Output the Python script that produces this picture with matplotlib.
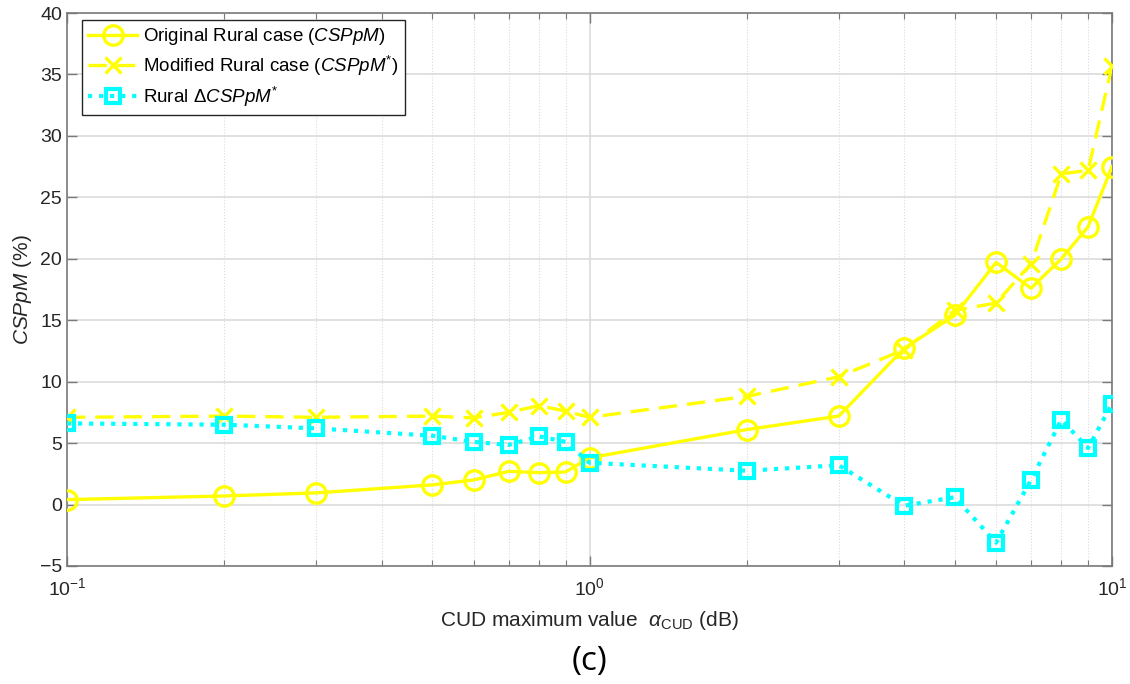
import numpy as np
import matplotlib
matplotlib.use('Agg')
import matplotlib.pyplot as plt
from matplotlib.ticker import LogLocator, NullFormatter

plt.rcParams['font.family'] = ['Liberation Sans', 'DejaVu Sans']
plt.rcParams['mathtext.fontset'] = 'custom'
plt.rcParams['mathtext.rm'] = 'Liberation Sans'
plt.rcParams['mathtext.it'] = 'Liberation Sans:italic'
plt.rcParams['mathtext.bf'] = 'Liberation Sans:bold'

# CUD maximum value (dB)
alpha_cud = [0.1, 0.2, 0.3, 0.5, 0.6, 0.7, 0.8, 0.9, 1, 2, 3, 4, 5, 6, 7, 8, 9, 10]

# CSPpM (%) per case
rural_orig = [0.4, 0.7, 0.95, 1.6, 2.0, 2.7, 2.6, 2.65, 3.8, 6.1, 7.2, 12.7, 15.4, 19.7, 17.6, 20.0, 22.6, 27.5]
rural_mod = [7.1, 7.2, 7.1, 7.2, 7.05, 7.5, 8.05, 7.6, 7.1, 8.8, 10.4, 12.6, 15.8, 16.4, 19.6, 26.9, 27.2, 35.7]
rural_delta = [6.6, 6.5, 6.2, 5.6, 5.1, 4.85, 5.55, 5.1, 3.4, 2.75, 3.2, -0.1, 0.6, -3.1, 2.0, 6.9, 4.6, 8.2]

yel = (1, 1, 0)
cya = (0, 1, 1)

fig = plt.figure(figsize=(11.3, 6.84), dpi=100)
ax = fig.add_axes([67 / 1130, 1 - 566 / 684, (1112 - 67) / 1130, (566 - 13) / 684])

ax.plot(alpha_cud, rural_orig, '-', color=yel, lw=2.4, marker='o', ms=14,
        mfc='none', mew=2.4, label=r'Original Rural case ($\it{CSPpM}$)', zorder=4)
ax.plot(alpha_cud, rural_mod, '--', color=yel, lw=2.4, dashes=(5.5, 3), marker='x', ms=11,
        mew=2.4, label=r'Modified Rural case ($\it{CSPpM}^{*}$)', zorder=4)
ax.plot(alpha_cud, rural_delta, ':', color=cya, lw=3, marker='s', ms=10,
        mfc='none', mew=3, label=r'Rural $\Delta\it{CSPpM}^{*}$', zorder=4)

ax.set_xscale('log')
ax.set_xlim(0.1, 10)
ax.set_ylim(-5, 40)
ax.set_yticks(np.arange(-5, 41, 5))
ax.xaxis.set_major_locator(LogLocator(base=10, numticks=10))
ax.xaxis.set_minor_locator(LogLocator(base=10, subs=np.arange(2, 10), numticks=10))
ax.xaxis.set_minor_formatter(NullFormatter())

ax.grid(True, which='major', color='#d8d8d8', lw=1.1, ls='-')
ax.grid(True, which='minor', axis='x', color='#dadada', lw=0.8, ls=':')
ax.set_axisbelow(True)

for s in ax.spines.values():
    s.set_color('#7a7a7a')
    s.set_linewidth(1.2)
ax.tick_params(which='both', direction='in', top=True, right=True,
               color='#7a7a7a', labelcolor='#262626', labelsize=14)
ax.tick_params(which='major', length=7, width=1)
ax.tick_params(which='minor', length=4, width=0.8)
ax.tick_params(axis='x', pad=8)

ax.set_ylabel(r'$\it{CSPpM}$ (%)', fontsize=15, color='#262626', labelpad=4)
ax.set_xlabel(r'CUD maximum value  $\alpha_{\mathrm{CUD}}$ (dB)', fontsize=15,
              color='#262626', labelpad=7)

leg = ax.legend(loc='upper left', bbox_to_anchor=(0.014, 0.988), fontsize=13.5,
                frameon=True, fancybox=False, framealpha=1, edgecolor='#262626',
                handlelength=2.6, handletextpad=0.3, borderpad=0.35, labelspacing=0.35,
                borderaxespad=0)
leg.get_frame().set_linewidth(1)

fig.text(0.522, 0.033, '(c)', fontsize=24, family='Open Sans', ha='center', va='center')

fig.savefig('out.png', dpi=100)
